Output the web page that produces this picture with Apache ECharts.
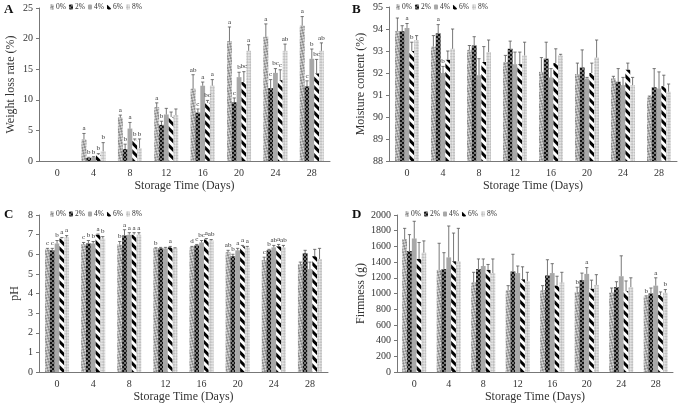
<!DOCTYPE html>
<html><head><meta charset="utf-8">
<script src="https://cdn.jsdelivr.net/npm/echarts@6/dist/echarts.min.js"></script>
<style>html,body{margin:0;padding:0;background:#fff}#c{width:685px;height:406px}</style>
</head><body><div id="c"></div>
<script>
const days = ['0','4','8','12','16','20','24','28'];
const groups = ['0%','2%','4%','6%','8%'];

// A: Weight loss rate (%)
const wlMean = [
 [0,3.5,7.1,8.8,11.8,19.6,20.3,22.1],
 [0,0.5,1.95,5.9,7.9,9.6,11.9,12.2],
 [0,0.6,5.3,7.6,12.3,13.7,14.4,16.7],
 [0,1.0,3.3,7.2,9.5,12.9,13.2,14.3],
 [0,1.6,2.1,7.5,12.3,18.0,18.0,18.0]];
const wlErr = [
 [0,1.0,0.4,0.7,2.3,2.3,2.1,1.5],
 [0,0.1,0.8,0.6,0.6,0.7,1.4,0.9],
 [0,0.1,1.0,1.0,0.6,0.8,0.7,1.6],
 [0,0.2,0.3,0.8,0.4,1.7,1.7,2.3],
 [0,1.4,1.5,1.0,1.0,1.0,1.1,1.3]];
const wlSig = [
 ['','a','a','a','ab','a','a','a'],
 ['','b','b','b','c','c','c','c'],
 ['','b','a','','a','b','bc','b'],
 ['','b','b','','bc','bc','c','bc'],
 ['','b','b','','a','a','ab','ab']];

// B: Moisture content (%)
const mcMean = [
 [93.9,93.2,93.05,92.5,92.05,91.95,91.75,90.9],
 [93.9,93.8,93.25,93.1,92.65,92.25,91.6,91.35],
 [94.05,92.0,91.9,92.4,91.8,91.75,91.45,91.3],
 [93.0,92.6,92.5,92.4,92.45,92.0,92.15,91.4],
 [93.5,93.1,92.95,92.8,92.8,92.7,91.45,91.15]];
const mcErr = [
 [0.6,0.5,0.2,0.3,0.65,0.5,0.1,0.05],
 [0.25,0.4,0.4,0.35,0.75,0.8,0.6,0.85],
 [0.2,0.3,0.75,0.55,0.4,0.05,0.35,0.75],
 [0.4,0.4,0.7,0.55,0.65,0.45,0.3,0.5],
 [0.2,0.9,0.55,0.6,0.05,0.8,0.35,0.35]];
const mcSig = [
 ['','','','','','','',''],
 ['','a','','','','','',''],
 ['a','b','','','','','',''],
 ['b','','','','','','',''],
 ['','','','','','','','']];

// C: pH
const phMean = [
 [6.25,6.5,6.5,6.3,6.35,6.1,5.7,5.5],
 [6.2,6.55,6.95,6.3,6.45,5.9,6.2,6.05],
 [6.55,6.55,7.0,6.3,6.6,6.2,6.35,5.25],
 [6.8,7.0,7.0,6.35,6.75,6.4,6.4,5.9],
 [6.85,6.8,7.0,6.3,6.7,6.35,6.35,5.75]];
const phErr = [
 [0.05,0.1,0.15,0.03,0.05,0.1,0.15,0.1],
 [0.1,0.15,0.3,0.05,0.05,0.1,0.05,0.15],
 [0.15,0.1,0.1,0.05,0.1,0.1,0.1,0.35],
 [0.05,0.03,0.1,0.05,0.05,0.05,0.1,0.35],
 [0.1,0.1,0.1,0.03,0.05,0.05,0.1,0.55]];
const phSig = [
 ['c','c','b','b','d','ab','c',''],
 ['c','b','a','','c','b','b',''],
 ['b','b','a','','bc','a','ab',''],
 ['a','a','a','a','a','a','a',''],
 ['a','b','a','','ab','a','ab','']];

// D: Firmness (g)
const fmMean = [
 [1690,1300,1140,1040,1040,1020,1010,960],
 [1540,1310,1310,1280,1230,1170,1080,1000],
 [1700,1460,1350,1260,1260,1250,1220,1100],
 [1440,1410,1300,1180,1100,1060,1030,980],
 [1520,1410,1260,1160,1140,1110,1080,1010]];
const fmErr = [
 [140,340,130,60,60,60,60,10],
 [210,210,130,220,200,90,70,70],
 [220,400,90,90,120,80,260,100],
 [210,360,70,160,120,110,130,40],
 [150,420,180,110,130,130,120,40]];
const fmSig = [
 ['','','','','','b','','b'],
 ['','','','','','','',''],
 ['','','','','','a','','a'],
 ['','','','','','','',''],
 ['','','','','','','','b']];

const SERIF = 'Liberation Serif';
const BW = 4.8;
const styles = [
 {color:'#d4d4d4', decal:{symbol:'rect', color:'#8a8a8a', dashArrayX:[[1.5,1.5],[0,1.5,1.5,0]], dashArrayY:[1.5,0], symbolSize:1}},
 {color:'#111111', decal:{symbol:'circle', color:'#ffffff', dashArrayX:[[1.5,1.5],[0,1.5,1.5,0]], dashArrayY:[1.5,0], symbolSize:0.8}},
 {color:'#a8a8a8', decal:{symbol:'none'}},
 {color:'#ffffff', decal:{symbol:'rect', color:'#000000', dashArrayX:[1,0], dashArrayY:[2.2,2.2], rotation:Math.PI/4, symbolSize:1}},
 {color:'#e4e4e4', decal:{symbol:'circle', color:'#b0b0b0', dashArrayX:[[1.5,1.5],[0,1.5,1.5,0]], dashArrayY:[1.5,0], symbolSize:0.9}}
];

const panels = [
 {mean:wlMean, err:wlErr, sig:wlSig, min:0, max:25, interval:5, name:'Weight loss rate (%)', grid:{left:39, top:8, width:291, height:153}, legend:{left:50, top:3}, letter:'A', lx:4, ly:3, nameGap:22},
 {mean:mcMean, err:mcErr, sig:mcSig, min:88, max:95, interval:1, name:'Moisture content (%)', grid:{left:389, top:7, width:288, height:154}, legend:{left:396, top:3}, letter:'B', lx:352, ly:3, nameGap:22},
 {mean:phMean, err:phErr, sig:phSig, min:0, max:8, interval:1, name:'pH', grid:{left:39, top:215, width:289, height:157}, legend:{left:50, top:210}, letter:'C', lx:4, ly:208, nameGap:18},
 {mean:fmMean, err:fmErr, sig:fmSig, min:0, max:2000, interval:200, name:'Firmness (g)', grid:{left:397, top:215, width:276, height:157}, legend:{left:405, top:210}, letter:'D', lx:352, ly:208, nameGap:30}
];

const grid=[], xAxis=[], yAxis=[], series=[], legend=[], graphic=[];
panels.forEach((p, gi) => {
  grid.push(p.grid);
  xAxis.push({type:'category', gridIndex:gi, data:days, name:'Storage Time (Days)', nameLocation:'middle', nameGap:19,
    nameTextStyle:{fontFamily:SERIF, fontSize:12, color:'#333'},
    axisLine:{lineStyle:{color:'#777'}}, axisTick:{show:false},
    axisLabel:{fontFamily:SERIF, fontSize:10, color:'#333', margin:7}});
  yAxis.push({type:'value', gridIndex:gi, min:p.min, max:p.max, interval:p.interval, name:p.name, nameLocation:'middle', nameGap:p.nameGap,
    nameTextStyle:{fontFamily:SERIF, fontSize:12, color:'#333'},
    axisLine:{show:true, lineStyle:{color:'#777'}}, axisTick:{show:true, length:3, lineStyle:{color:'#777'}}, splitLine:{show:false},
    axisLabel:{fontFamily:SERIF, fontSize:10, color:'#333', margin:6, formatter:(v)=>String(v)}});
  legend.push({data:groups, left:p.legend.left, top:p.legend.top, itemWidth:4, itemHeight:5, itemGap:3,
    textStyle:{fontFamily:SERIF, fontSize:7.5, color:'#333', padding:[0,0,0,-3]}, padding:0});
  groups.forEach((g, si) => {
    series.push({type:'bar', name:g, xAxisIndex:gi, yAxisIndex:gi, data:p.mean[si], barWidth:BW, barGap:'0%',
      itemStyle:{color:styles[si].color, decal:styles[si].decal}, emphasis:{disabled:true}});
  });
  const edata=[];
  for (let si=0; si<5; si++) for (let d=0; d<8; d++) edata.push([d, p.mean[si][d], p.mean[si][d]+p.err[si][d], si]);
  series.push({type:'custom', xAxisIndex:gi, yAxisIndex:gi, z:5, silent:true, data:edata,
    renderItem:(params, api) => {
      const d=api.value(0), m=api.value(1), t=api.value(2), s=api.value(3);
      const p0=api.coord([d,m]), p1=api.coord([d,t]);
      const x=p0[0]+(s-2)*BW;
      const children=[];
      if (t>m) {
        children.push({type:'line', shape:{x1:x,y1:p0[1],x2:x,y2:p1[1]}, style:{stroke:'#555', lineWidth:0.8}});
        children.push({type:'line', shape:{x1:x-1.6,y1:p1[1],x2:x+1.6,y2:p1[1]}, style:{stroke:'#555', lineWidth:0.8}});
      }
      const lab=p.sig[s][d];
      if (lab) children.push({type:'text', style:{text:lab, x:x, y:p1[1]-1.5, align:'center', verticalAlign:'bottom', font:'7px '+SERIF, fill:'#333'}});
      return {type:'group', children};
    }});
  graphic.push({type:'text', left:p.lx, top:p.ly, style:{text:p.letter, font:'bold 13px '+SERIF, fill:'#111'}});
});

const chart = echarts.init(document.getElementById('c'), null, {renderer:'canvas'});
chart.setOption({
  animation:false,
  aria:{enabled:true, label:{enabled:false}, decal:{show:true}},
  grid, xAxis, yAxis, series, legend, graphic
});
</script></body></html>
